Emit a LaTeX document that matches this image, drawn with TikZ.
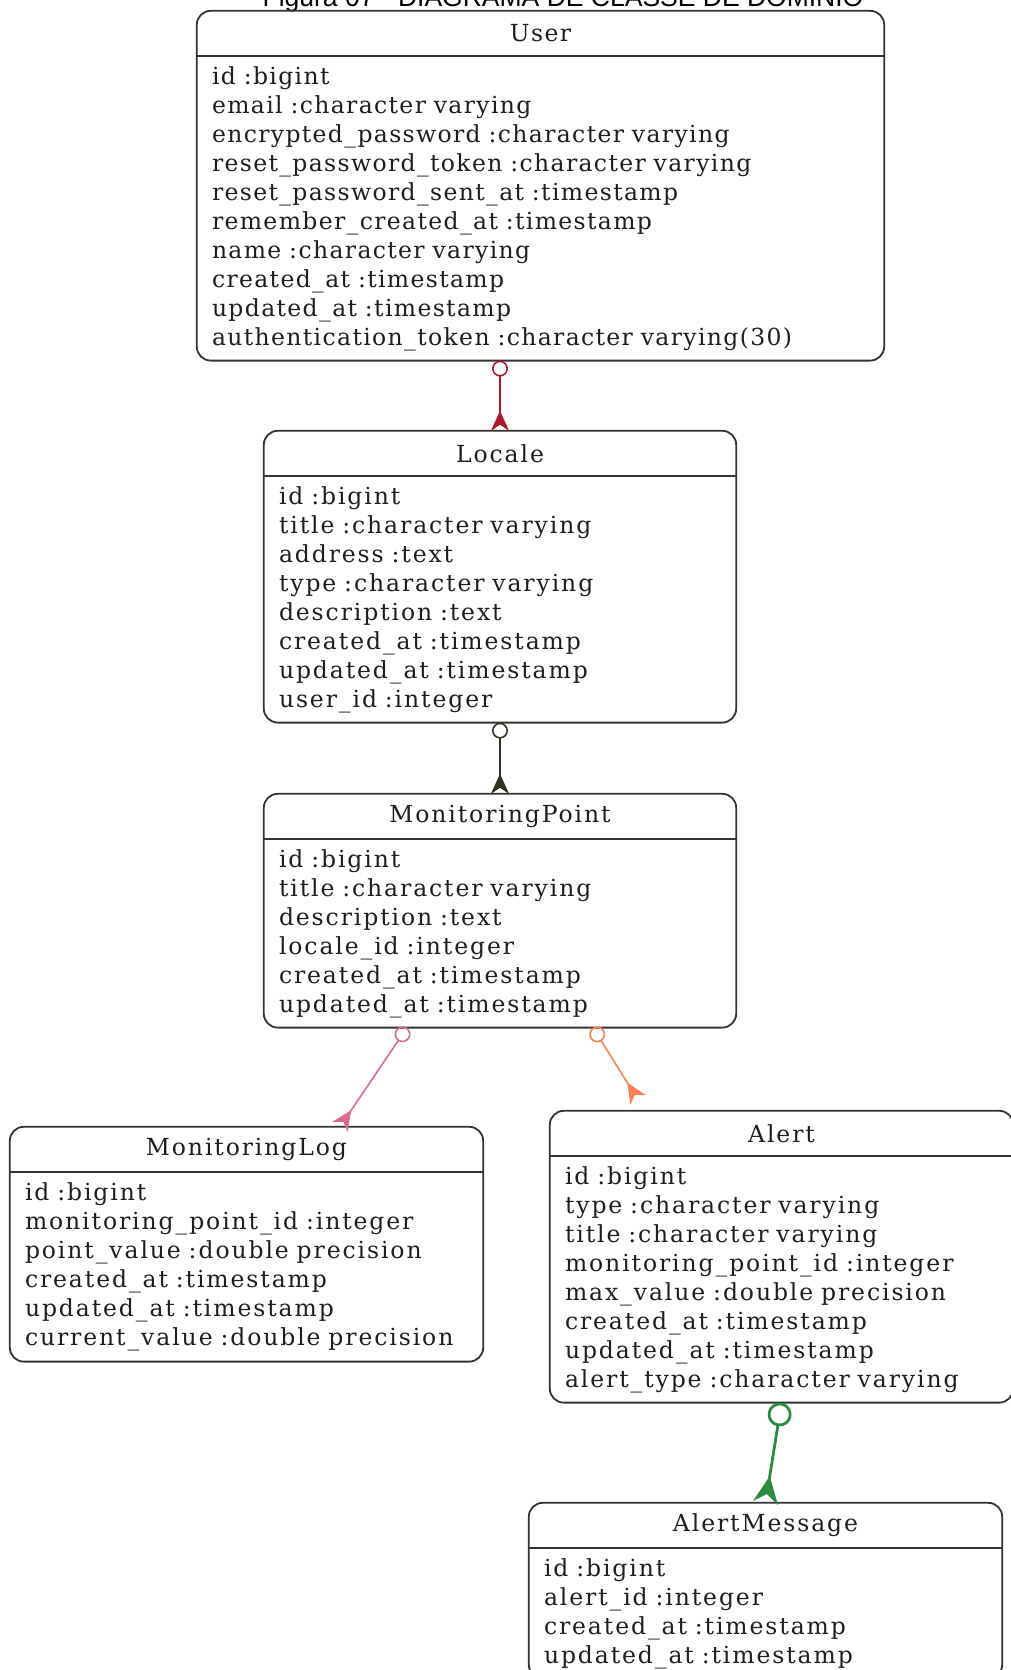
\documentclass[tikz,border=0pt]{standalone}
\usepackage{fontspec}
\setmainfont{DejaVu Serif}
\newfontfamily\erfont[LetterSpace=8.1]{DejaVu Serif}
\newfontfamily\erfontU[LetterSpace=5.8]{DejaVu Serif}
\newfontfamily\capfont{Liberation Sans}
\usetikzlibrary{arrows.meta,positioning,fit}
\definecolor{erLine}{HTML}{333333}
\definecolor{erText}{HTML}{1E1E1E}
\definecolor{erRed}{HTML}{B2182B}
\definecolor{erOlive}{HTML}{2F3320}
\definecolor{erPink}{HTML}{DB6A8C}
\definecolor{erCoral}{HTML}{FF7F50}
\definecolor{erGreen}{HTML}{2B8C3F}
\tikzset{
  % entity name strip
  er/head/.style={inner sep=0pt, minimum height=45pt, text=erText,
    font=\erfont\fontsize{23.5}{29}\selectfont},
  % attribute list under the name
  er/body/.style={inner xsep=15pt, inner ysep=0pt, align=left, text=erText,
    font=\erfont\fontsize{23.5}{29}\selectfont},
  % outline round both parts
  er/frame/.style={draw=erLine, line width=1.8pt, rounded corners=14pt, inner sep=0pt},
  er/rule/.style={draw=erLine, line width=1.8pt},
  % zero-or-one ... many
  er/rel/.style={line width=1.6pt,
    {Circle[open,length=16pt]}-{Stealth[reversed,length=20pt,width=18pt,inset=6pt]}},
  er/relBig/.style={line width=2.8pt,
    {Circle[open,length=24pt]}-{Stealth[reversed,length=27pt,width=25pt,inset=9pt]}},
}
\begin{document}
\begin{tikzpicture}[x=1pt,y=-1pt]
  \useasboundingbox (0,0) rectangle (1011,1670);
  \clip (0,0) rectangle (1011,1670);

  \node[font=\capfont\fontsize{26.5}{30}\selectfont, anchor=base] (fig) at (563,7)
       {Figura 07 - DIAGRAMA DE CLASSE DE DOMÍNIO};

  % User
  \node[er/head, minimum width=687pt, font=\erfontU\fontsize{23.5}{29}\selectfont] (user) at (540.5,33.5) {User};
  \node[er/body, text width=657pt, minimum height=304pt, below=0pt of user,
        font=\erfontU\fontsize{23.5}{29}\selectfont] (userB)
       {id :bigint\\email :character varying\\encrypted\_password :character varying\\
        reset\_password\_token :character varying\\reset\_password\_sent\_at :timestamp\\
        remember\_created\_at :timestamp\\name :character varying\\created\_at :timestamp\\
        updated\_at :timestamp\\authentication\_token :character varying(30)};
  \node[er/frame, fit=(user)(userB)] (userF) {};
  \draw[er/rule] (user.south west) -- (user.south east);

  % Locale
  \node[er/head, minimum width=472pt] (loc) at (500,453.5) {Locale};
  \node[er/body, text width=442pt, minimum height=246pt, below=0pt of loc] (locB)
       {id :bigint\\title :character varying\\address :text\\type :character varying\\
        description :text\\created\_at :timestamp\\updated\_at :timestamp\\user\_id :integer};
  \node[er/frame, fit=(loc)(locB)] (locF) {};
  \draw[er/rule] (loc.south west) -- (loc.south east);

  % MonitoringPoint
  \node[er/head, minimum width=472pt] (mp) at (500,816.5) {MonitoringPoint};
  \node[er/body, text width=442pt, minimum height=188pt, below=0pt of mp] (mpB)
       {id :bigint\\title :character varying\\description :text\\locale\_id :integer\\
        created\_at :timestamp\\updated\_at :timestamp};
  \node[er/frame, fit=(mp)(mpB)] (mpF) {};
  \draw[er/rule] (mp.south west) -- (mp.south east);

  % MonitoringLog
  \node[er/head, minimum width=473pt] (mlog) at (246.5,1149.5) {MonitoringLog};
  \node[er/body, text width=443pt, minimum height=189pt, below=0pt of mlog] (mlogB)
       {id :bigint\\monitoring\_point\_id :integer\\point\_value :double precision\\
        created\_at :timestamp\\updated\_at :timestamp\\current\_value :double precision};
  \node[er/frame, fit=(mlog)(mlogB)] (mlogF) {};
  \draw[er/rule] (mlog.south west) -- (mlog.south east);

  % Alert
  \node[er/head, minimum width=463pt] (alert) at (781.5,1133.5) {Alert};
  \node[er/body, text width=433pt, minimum height=246pt, below=0pt of alert] (alertB)
       {id :bigint\\type :character varying\\title :character varying\\
        monitoring\_point\_id :integer\\max\_value :double precision\\
        created\_at :timestamp\\updated\_at :timestamp\\alert\_type :character varying};
  \node[er/frame, fit=(alert)(alertB)] (alertF) {};
  \draw[er/rule] (alert.south west) -- (alert.south east);

  % AlertMessage
  \node[er/head, minimum width=473pt] (amsg) at (765.5,1525.5) {AlertMessage};
  \node[er/body, text width=443pt, minimum height=130pt, below=0pt of amsg] (amsgB)
       {id :bigint\\alert\_id :integer\\created\_at :timestamp\\updated\_at :timestamp};
  \node[er/frame, fit=(amsg)(amsgB)] (amsgF) {};
  \draw[er/rule] (amsg.south west) -- (amsg.south east);

  % relations
  \draw[er/rel, draw=erRed] (loc.north |- userB.south) -- (loc.north);
  \draw[er/rel, draw=erOlive] (locB.south) -- (mp.north);
  \draw[er/rel, draw=erPink] ([xshift=-93pt]mpB.south) -- ([xshift=93.5pt]mlog.north);
  \draw[er/rel, draw=erCoral] ([xshift=93pt]mpB.south) -- ([xshift=-143.5pt,yshift=11pt]alert.north);
  \draw[er/relBig, draw=erGreen] (alertB.south) -- (amsg.north);
\end{tikzpicture}
\end{document}
